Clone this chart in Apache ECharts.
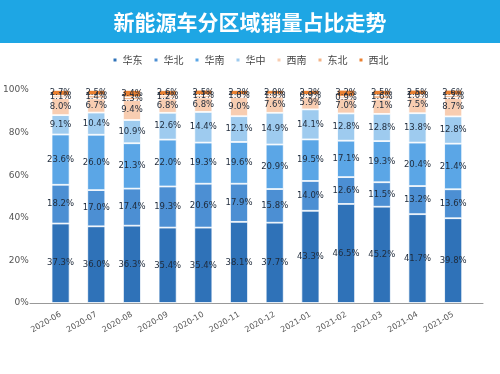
<!DOCTYPE html>
<html><head><meta charset="utf-8">
<script src="https://cdn.jsdelivr.net/npm/echarts@6/dist/echarts.min.js"></script>
<style>html,body{margin:0;padding:0;background:#fff}#c{width:500px;height:374px}</style>
</head><body><div id="c"></div>
<script>
const months = ['2020-06','2020-07','2020-08','2020-09','2020-10','2020-11','2020-12','2021-01','2021-02','2021-03','2021-04','2021-05'];
const regions = ['华东','华北','华南','华中','西南','东北','西北'];
const eastChina   = [37.3,36.0,36.3,35.4,35.4,38.1,37.7,43.3,46.5,45.2,41.7,39.8];
const northChina  = [18.2,17.0,17.4,19.3,20.6,17.9,15.8,14.0,12.6,11.5,13.2,13.6];
const southChina  = [23.6,26.0,21.3,22.0,19.3,19.6,20.9,19.5,17.1,19.3,20.4,21.4];
const centralChina= [9.1,10.4,10.9,12.6,14.4,12.1,14.9,14.1,12.8,12.8,13.8,12.8];
const southwest   = [8.0,6.7,9.4,6.8,6.8,9.0,7.6,5.9,7.0,7.1,7.5,8.7];
const northeast   = [1.1,1.4,1.3,1.2,1.1,1.0,1.0,0.9,0.9,1.6,1.0,1.2];
const northwest   = [2.7,2.5,3.4,2.6,2.5,2.3,2.0,2.3,3.2,2.5,2.5,2.6];
const yTicks = ['0%','20%','40%','60%','80%','100%'];

const seriesData = [eastChina,northChina,southChina,centralChina,southwest,northeast,northwest];
const colors = ['#2f72b8','#4c8fd3','#5ba6e6','#9ecbef','#f8cdb1','#f3b386','#ea8030'];

const chart = echarts.init(document.getElementById('c'));
chart.setOption({
  animation:false,
  backgroundColor:'#fff',
  graphic:[{type:'rect',left:0,top:0,shape:{width:500,height:43},style:{fill:'#1ea6e4'},z:-1}],
  title:{text:'新能源车分区域销量占比走势',left:'center',top:7,
    textStyle:{color:'#fff',fontSize:21,fontWeight:'bold',fontFamily:'Noto Sans CJK SC'}},
  legend:{data:regions,top:50,left:'center',icon:'rect',itemWidth:5,itemHeight:5,itemGap:10,
    textStyle:{fontSize:10,color:'#444',fontFamily:'Noto Sans CJK SC'}},
  grid:[{left:42,right:29,top:90,bottom:71},{left:30,right:17,top:90,bottom:71}],
  xAxis:[{type:'category',data:months,gridIndex:0,
    axisLine:{show:false},axisTick:{show:false},
    axisLabel:{rotate:30,fontSize:8,color:'#555',margin:11,fontFamily:'DejaVu Sans'}},
    {type:'category',data:[''],gridIndex:1,axisLine:{lineStyle:{color:'#999',width:1}},axisTick:{show:false},axisLabel:{show:false}}],
  yAxis:[{type:'value',min:0,max:100,interval:20,gridIndex:0,
    axisLabel:{formatter:(v)=>yTicks[v/20],fontSize:9,color:'#555',margin:14,fontFamily:'DejaVu Sans'},
    splitLine:{show:false},axisLine:{show:false}},
    {type:'value',min:0,max:100,gridIndex:1,show:false}],
  series:seriesData.map((d,i)=>({
    name:regions[i],type:'bar',stack:'total',xAxisIndex:0,yAxisIndex:0,
    data:d,barWidth:18,
    itemStyle:{color:colors[i],borderColor:'#fff',borderWidth:0.8},
    label:{show:true,position:'inside',formatter:(p)=>p.value.toFixed(1)+'%',
      fontSize:8.5,color:'#1e2a3a',fontFamily:'DejaVu Sans'}
  }))
});
</script></body></html>
